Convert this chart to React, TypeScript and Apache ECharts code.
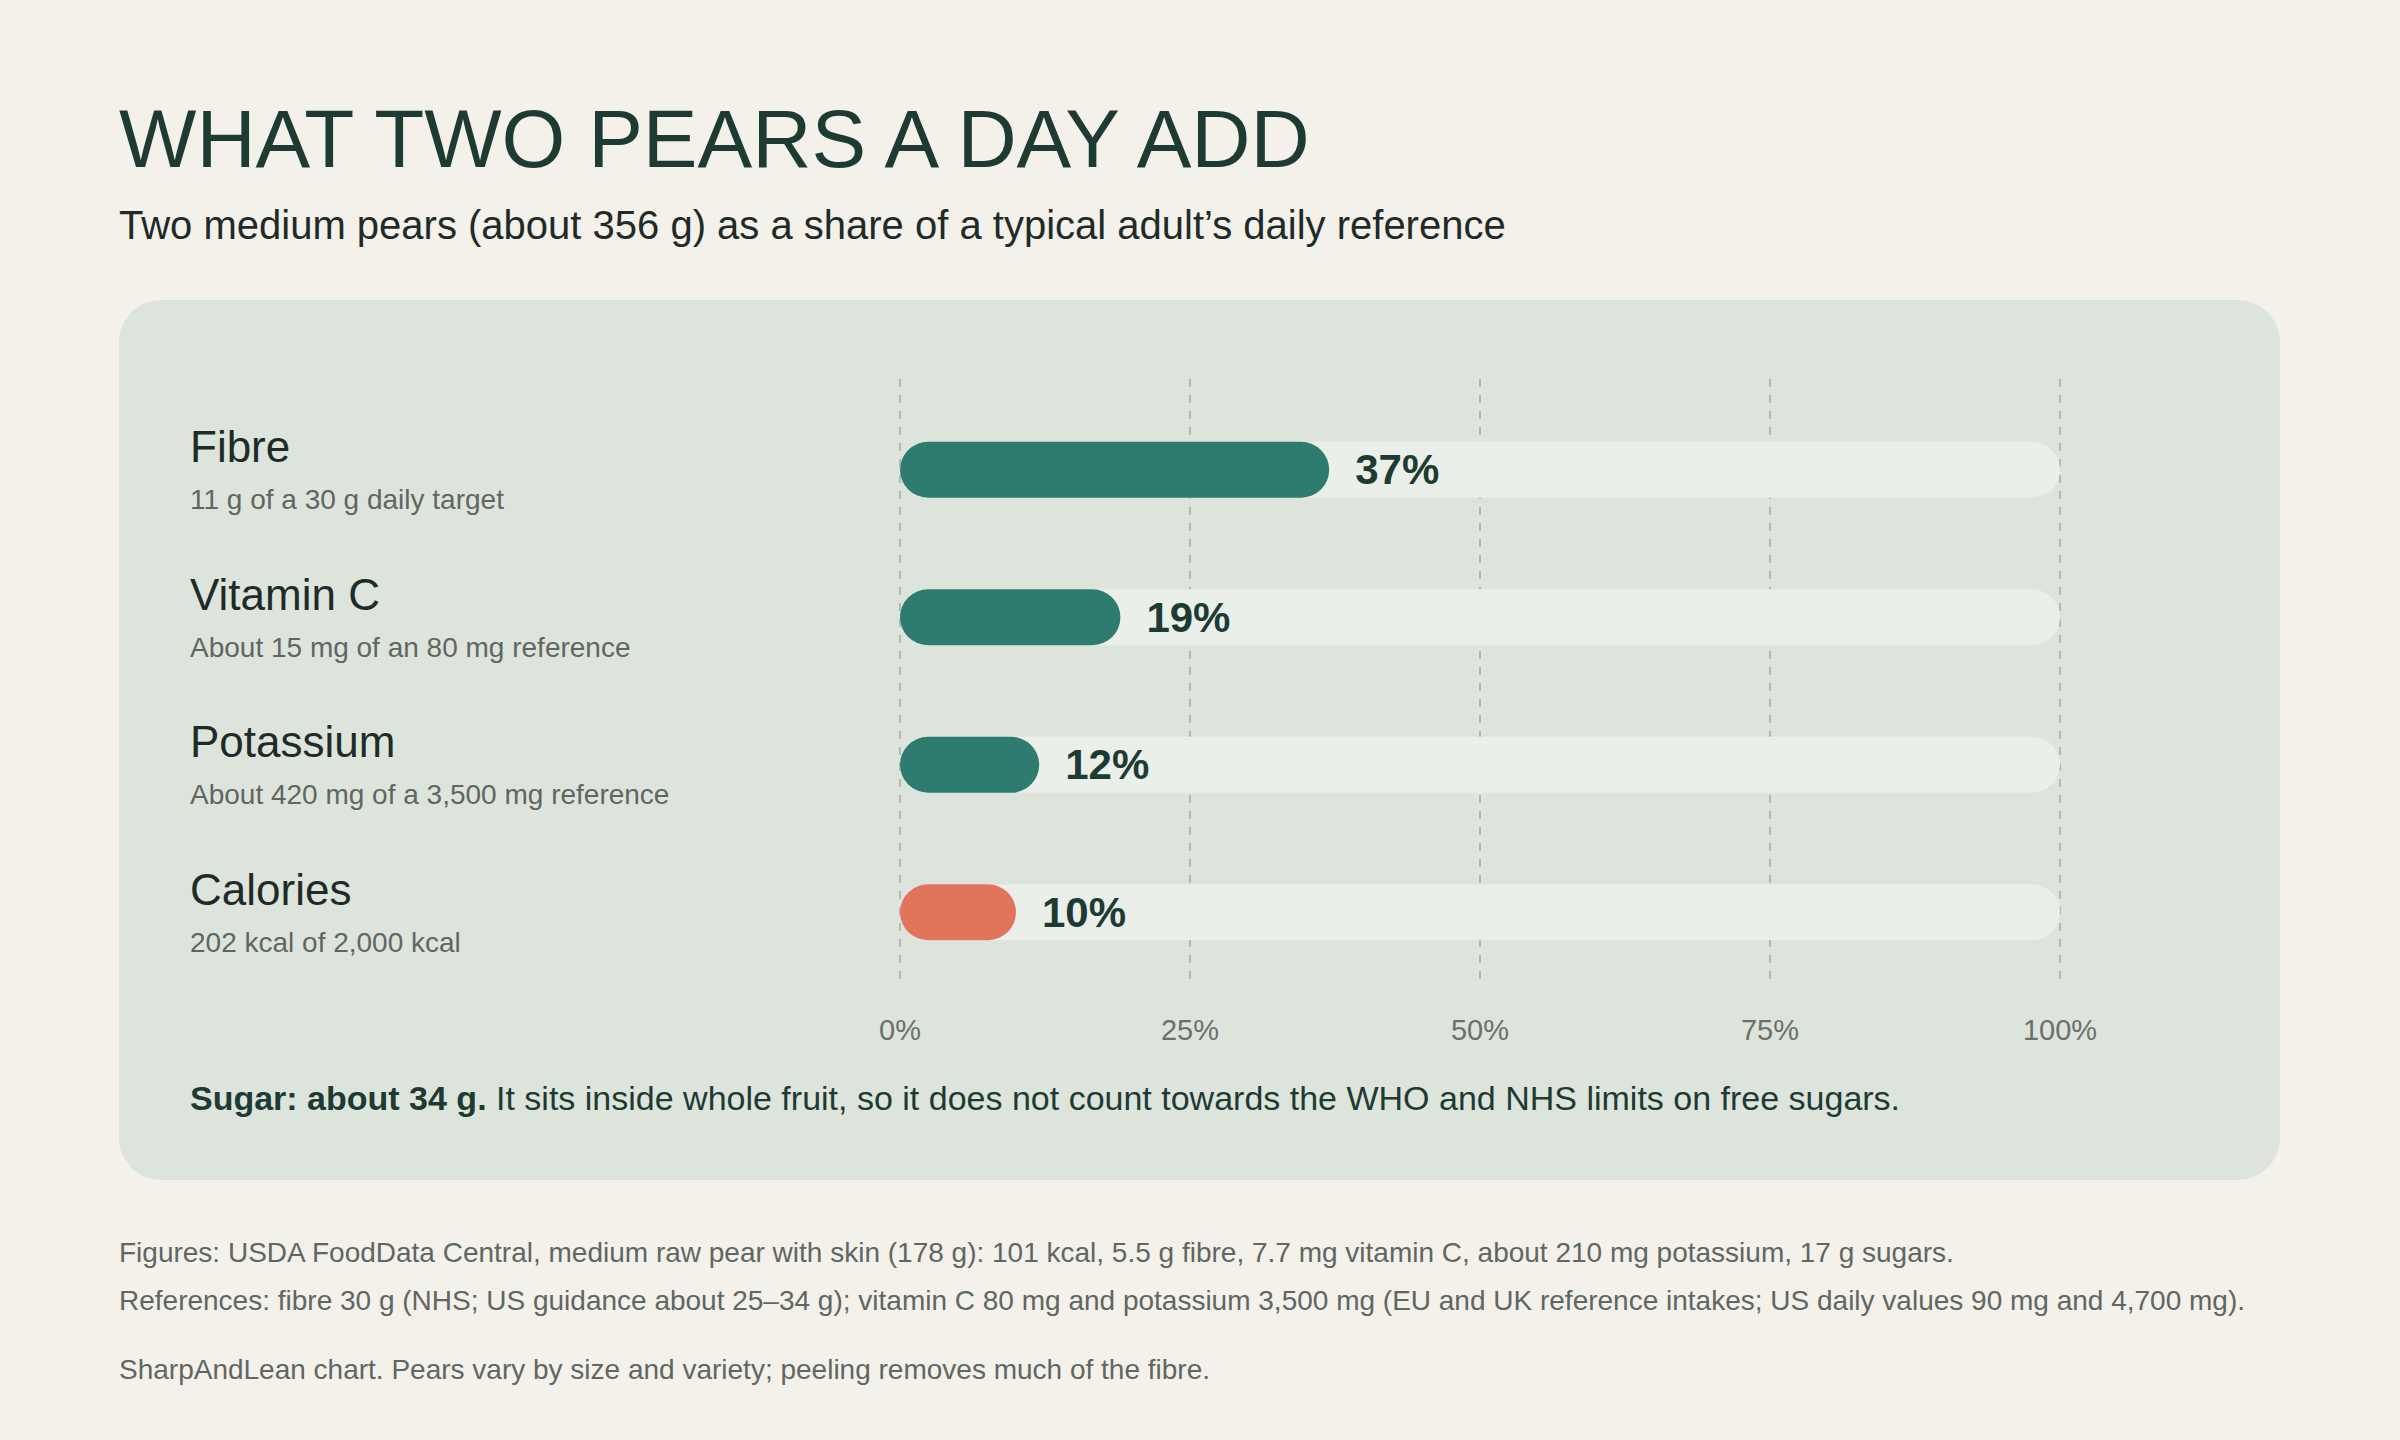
import React, { useEffect, useRef } from "react";
import * as echarts from "echarts";

// nutrient rows, top to bottom
const categories = ["Fibre", "Vitamin C", "Potassium", "Calories"];
const details = [
	"11 g of a 30 g daily target",
	"About 15 mg of an 80 mg reference",
	"About 420 mg of a 3,500 mg reference",
	"202 kcal of 2,000 kcal",
];
// share of the daily reference, in percent
const shares = [37, 19, 12, 10];
const fullScale = 100;
const accentCategory = "Calories";

const titleText = "WHAT TWO PEARS A DAY ADD";
const subtitleText =
	"Two medium pears (about 356 g) as a share of a typical adult\u2019s daily reference";
const sugarLead = "Sugar: about 34 g.";
const sugarRest =
	" It sits inside whole fruit, so it does not count towards the WHO and NHS limits on free sugars.";
const footnotes = [
	"Figures: USDA FoodData Central, medium raw pear with skin (178 g): 101 kcal, 5.5 g fibre, 7.7 mg vitamin C, about 210 mg potassium, 17 g sugars.",
	"References: fibre 30 g (NHS; US guidance about 25\u201334 g); vitamin C 80 mg and potassium 3,500 mg (EU and UK reference intakes; US daily values 90 mg and 4,700 mg).",
	"SharpAndLean chart. Pears vary by size and variety; peeling removes much of the fibre.",
];

const FONT = "'Liberation Sans', Arial, sans-serif";
const DARK_GREEN = "#1e3b33";
const INK = "#1f2b28";
const GREY = "#5f6762";
const TEAL = "#2e7b6f";
const CORAL = "#e2745b";

const App: React.FC = () => {
	const chartRef = useRef<HTMLDivElement>(null);

	useEffect(() => {
		document.body.style.margin = "0";
		if (!chartRef.current) return;
		const chart = echarts.init(chartRef.current, undefined, { renderer: "svg" });

		const option: echarts.EChartsOption = {
			animation: false,
			backgroundColor: "#f4f0ea",
			textStyle: { fontFamily: FONT },
			title: [
				{
					text: titleText,
					left: 119,
					top: 97,
					padding: 0,
					textStyle: { fontFamily: FONT, fontSize: 82, lineHeight: 82, fontWeight: "normal", color: DARK_GREEN },
				},
				{
					text: subtitleText,
					left: 119,
					top: 205,
					padding: 0,
					textStyle: { fontFamily: FONT, fontSize: 40, lineHeight: 40, fontWeight: "normal", color: INK },
				},
				{
					text: `{b|${sugarLead}}{r|${sugarRest}}`,
					left: 190,
					top: 1081,
					padding: 0,
					textStyle: {
						fontFamily: FONT,
						fontSize: 34,
						lineHeight: 34,
						color: DARK_GREEN,
						rich: {
							b: { fontFamily: FONT, fontSize: 34, lineHeight: 34, fontWeight: "bold", color: DARK_GREEN },
							r: { fontFamily: FONT, fontSize: 34, lineHeight: 34, fontWeight: "normal", color: DARK_GREEN },
						},
					},
				},
				...footnotes.map((t, i) => ({
					text: t,
					left: 119,
					top: [1238, 1286, 1355][i],
					padding: 0,
					textStyle: { fontFamily: FONT, fontSize: 28, lineHeight: 28, fontWeight: "normal" as const, color: GREY },
				})),
			],
			graphic: [
				{
					type: "rect",
					z: -10,
					silent: true,
					shape: { x: 119, y: 300, width: 2161, height: 880, r: 42 },
					style: { fill: "#dde4dc" },
				},
			],
			grid: [
				{ left: 900, width: 1160, top: 379, height: 608 },
				{ left: 900, width: 1160, top: 396, height: 590 },
			],
			xAxis: [
				{
					type: "value",
					gridIndex: 0,
					min: 0,
					max: fullScale,
					interval: 25,
					axisLine: { show: false },
					axisTick: { show: false },
					axisLabel: {
						formatter: "{value}%",
						margin: 28,
						fontFamily: FONT,
						fontSize: 29,
						color: "#6a716c",
					},
					splitLine: {
						show: true,
						lineStyle: { color: "#b3b9b2", width: 2, type: [8, 8] },
					},
				},
				{
					type: "value",
					gridIndex: 1,
					min: 0,
					max: fullScale,
					show: false,
				},
			],
			yAxis: [
				{ type: "value", gridIndex: 0, show: false },
				{
					type: "category",
					gridIndex: 1,
					data: categories,
					inverse: true,
					axisLine: { show: false },
					axisTick: { show: false },
					splitLine: { show: false },
					axisLabel: {
						align: "left",
						margin: 710,
						formatter: (value: string, idx: number) => `{name|${value}}\n{sub|${details[idx]}}`,
						rich: {
							name: { fontFamily: FONT, fontSize: 44, lineHeight: 60, color: INK },
							sub: { fontFamily: FONT, fontSize: 28, lineHeight: 46, color: GREY },
						},
					},
				},
			],
			series: [
				{
					name: "track",
					type: "bar",
					xAxisIndex: 1,
					yAxisIndex: 1,
					silent: true,
					barWidth: 56,
					barGap: "-100%",
					data: categories.map(() => fullScale),
					itemStyle: { color: "#eaefe9", borderRadius: 28 },
				},
				{
					name: "share",
					type: "bar",
					xAxisIndex: 1,
					yAxisIndex: 1,
					barWidth: 56,
					barGap: "-100%",
					data: shares.map((v, i) => ({
						value: v,
						itemStyle: { color: categories[i] === accentCategory ? CORAL : TEAL },
					})),
					itemStyle: { borderRadius: 28 },
					label: {
						show: true,
						position: "right",
						distance: 26,
						formatter: "{c}%",
						fontFamily: FONT,
						fontSize: 42,
						fontWeight: "bold",
						color: DARK_GREEN,
					},
				},
			],
		};

		chart.setOption(option);
		return () => {
			chart.dispose();
		};
	}, []);

	return <div ref={chartRef} style={{ width: "2400px", height: "1440px" }} />;
};

export default App;
